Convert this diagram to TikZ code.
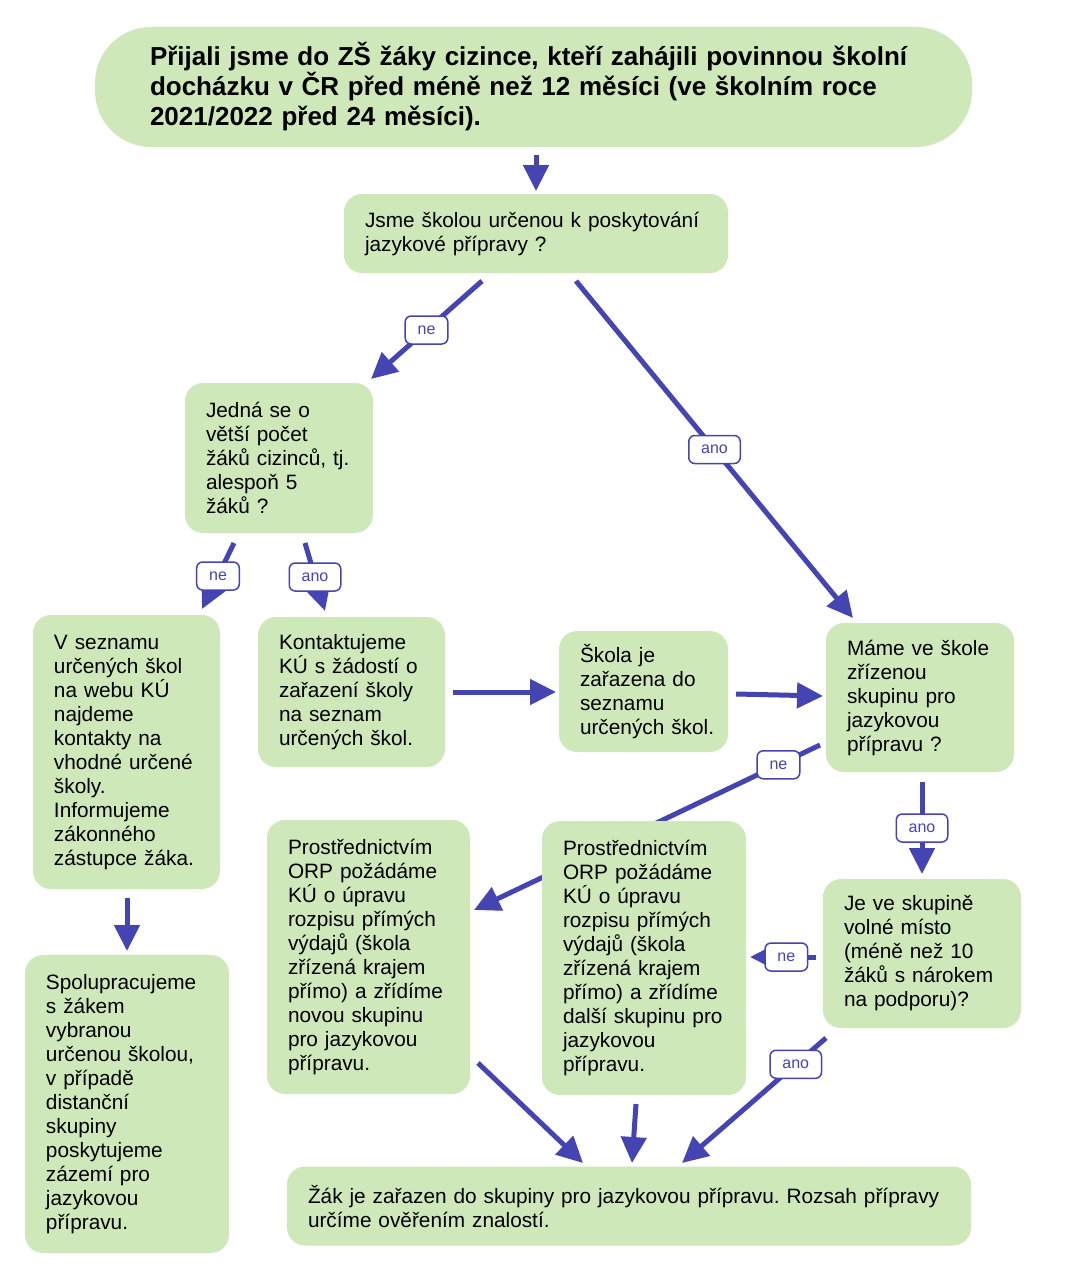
\documentclass[tikz,border=0pt]{standalone}
\usepackage{fontspec}
\setmainfont{Liberation Sans}
\usetikzlibrary{arrows.meta,backgrounds}
\definecolor{boxgreen}{RGB}{207,232,186}
\definecolor{arrowblue}{RGB}{68,68,178}
\frenchspacing
\begin{document}
\begin{tikzpicture}[x=0.5pt,y=-0.5pt,
  box/.style={fill=boxgreen, rounded corners=9pt, align=left, inner sep=0pt,
    font=\fontsize{10.4}{12}\selectfont},
  conn/.style={draw=arrowblue, line width=2.5pt, -{Triangle[length=13pt,width=12.5pt]}},
  lab/.style={draw=arrowblue, line width=0.75pt, fill=white, rounded corners=3pt,
    text=arrowblue, font=\fontsize{8}{9}\selectfont, minimum height=14pt,
    inner xsep=6.2pt, inner ysep=1pt}]
\useasboundingbox (0,0) rectangle (1072,1280);

\node[box, minimum width=438.5pt, minimum height=60pt, text width=383.5pt,
  rounded corners=28pt, font=\bfseries\fontsize{13}{15}\selectfont] (top) at (533.5,87)
  {\mbox{Přijali jsme do ZŠ žáky cizince, kteří zahájili povinnou školní}\\
   \mbox{docházku v ČR před méně než 12 měsíci (ve školním roce}\\
   \mbox{2021/2022 před 24 měsíci).}};

\node[box, minimum width=192pt, minimum height=39.5pt, text width=171pt] (q1) at (536,233.5)
  {Jsme školou určenou k poskytování\\ jazykové přípravy ?};

\node[box, minimum width=94pt, minimum height=75pt, text width=73pt] (jedna) at (279,458)
  {Jedná se o\\ větší počet\\ \mbox{žáků cizinců, tj.}\\ alespoň 5\\ žáků ?};

\node[box, minimum width=93.5pt, minimum height=137pt, text width=72.5pt] (vsez) at (126.5,752)
  {V seznamu\\ \mbox{určených škol}\\ na webu KÚ\\ najdeme\\ \mbox{kontakty na}\\ \mbox{vhodné určené}\\ školy.\\ Informujeme\\ zákonného\\ \mbox{zástupce žáka.}};

\node[box, minimum width=93.5pt, minimum height=75pt, text width=72.5pt] (kont) at (351.5,692)
  {Kontaktujeme\\ \mbox{KÚ s žádostí o}\\ \mbox{zařazení školy}\\ na seznam\\ \mbox{určených škol.}};

\node[box, minimum width=84.5pt, minimum height=60.5pt, text width=63.5pt] (skola) at (643.5,691.5)
  {Škola je\\ \mbox{zařazena do}\\ seznamu\\ \mbox{určených škol.}};

\node[box, minimum width=94pt, minimum height=74.5pt, text width=73pt] (mame) at (920,697.5)
  {\mbox{Máme ve škole}\\ zřízenou\\ \mbox{skupinu pro}\\ jazykovou\\ \mbox{přípravu ?}};

\node[box, minimum width=101.5pt, minimum height=137pt, text width=80.5pt] (prostA) at (368.5,957)
  {Prostřednictvím\\ \mbox{ORP požádáme}\\ \mbox{KÚ o úpravu}\\ \mbox{rozpisu přímých}\\ \mbox{výdajů (škola}\\ \mbox{zřízená krajem}\\ \mbox{přímo) a zřídíme}\\ \mbox{novou skupinu}\\ \mbox{pro jazykovou}\\ přípravu.};

\node[box, minimum width=102pt, minimum height=137pt, text width=81pt] (prostB) at (644,958)
  {Prostřednictvím\\ \mbox{ORP požádáme}\\ \mbox{KÚ o úpravu}\\ \mbox{rozpisu přímých}\\ \mbox{výdajů (škola}\\ \mbox{zřízená krajem}\\ \mbox{přímo) a zřídíme}\\ \mbox{další skupinu pro}\\ jazykovou\\ přípravu.};

\node[box, minimum width=99pt, minimum height=74.5pt, text width=78pt] (jeve) at (922,953.5)
  {\mbox{Je ve skupině}\\ \mbox{volné místo}\\ \mbox{(méně než 10}\\ \mbox{žáků s nárokem}\\ \mbox{na podporu)?}};

\node[box, minimum width=102pt, minimum height=149pt, text width=81pt] (spolu) at (127,1104)
  {Spolupracujeme\\ s žákem\\ vybranou\\ \mbox{určenou školou,}\\ \mbox{v případě}\\ distanční\\ skupiny\\ poskytujeme\\ \mbox{zázemí pro}\\ jazykovou\\ přípravu.};

\node[box, minimum width=342pt, minimum height=39.5pt, text width=321pt] (bot) at (629,1206)
  {\mbox{Žák je zařazen do skupiny pro jazykovou přípravu. Rozsah přípravy}\\ určíme ověřením znalostí.};

% connector end points
\coordinate (a1) at (536,155);  \coordinate (b1) at (536,191);
\coordinate (a2) at (482,281);  \coordinate (b2) at (371,379);
\coordinate (a3) at (576,281);  \coordinate (b3) at (853,618);
\coordinate (a4) at (234,543);  \coordinate (b4) at (202,609);
\coordinate (a5) at (305,543);  \coordinate (b5) at (325,611);
\coordinate (a6) at (453,692);  \coordinate (b6) at (556,692);
\coordinate (a7) at (736,694);  \coordinate (b7) at (823,696);
\coordinate (a8) at (820,745);  \coordinate (b8) at (474,910);
\coordinate (a9) at (922,782);  \coordinate (b9) at (922,874);
\coordinate (a10) at (816,957); \coordinate (b10) at (750,957);
\coordinate (a11) at (826,1038); \coordinate (b11) at (682,1163);
\coordinate (a12) at (478,1063); \coordinate (b12) at (583,1163);
\coordinate (a13) at (636,1104); \coordinate (b13) at (632,1163);
\coordinate (a14) at (127,898);  \coordinate (b14) at (127,951);

\begin{pgfonlayer}{background}
\draw[conn] (a1) -- (b1);
\draw[conn] (a2) -- node[lab] (l1) {ne} (b2);
\draw[conn] (a3) -- node[lab] (l2) {ano} (b3);
\draw[conn] (a4) -- node[lab] (l3) {ne} (b4);
\draw[conn] (a5) -- node[lab] (l4) {ano} (b5);
\draw[conn] (a6) -- (b6);
\draw[conn] (a7) -- (b7);
\draw[conn] (a8) -- node[lab, pos=0.12] (l5) {ne} (b8);
\draw[conn] (a9) -- node[lab] (l6) {ano} (b9);
\draw[conn] (a10) -- node[lab, pos=0.45] (l7) {ne} (b10);
\draw[conn] (a11) -- node[lab, pos=0.21] (l8) {ano} (b11);
\draw[conn] (a12) -- (b12);
\draw[conn] (a13) -- (b13);
\draw[conn] (a14) -- (b14);
\end{pgfonlayer}
\end{tikzpicture}
\end{document}
